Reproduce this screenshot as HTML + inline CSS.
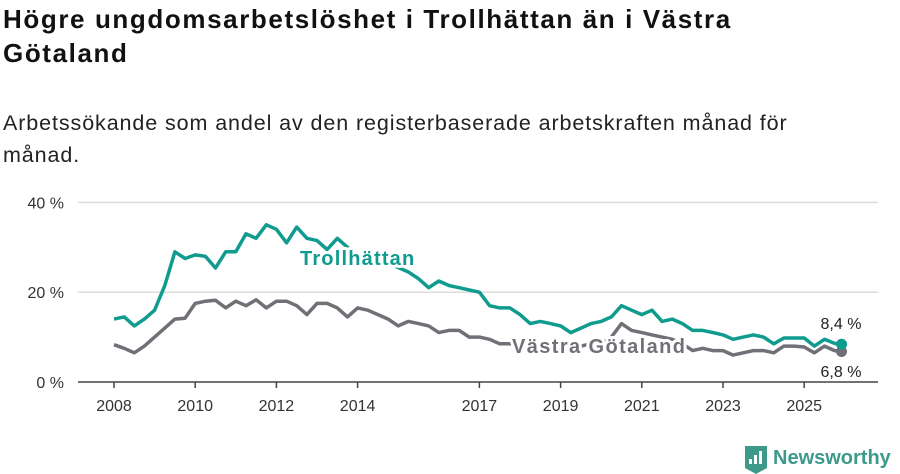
<!DOCTYPE html>
<html><head><meta charset="utf-8"><style>
body{margin:0;width:900px;height:474px;background:#fff;font-family:"Liberation Sans",sans-serif;overflow:hidden;position:relative}
h1{position:absolute;left:3px;top:2px;margin:0;font-size:26px;line-height:34px;font-weight:bold;color:#111;width:890px;letter-spacing:1.6px;white-space:nowrap}
p{position:absolute;left:3px;top:107px;margin:0;font-size:21.5px;line-height:32px;color:#222;width:890px;letter-spacing:0.9px;white-space:nowrap}
svg{position:absolute;left:0;top:0}
</style></head><body>
<h1>Högre ungdomsarbetslöshet i Trollhättan än i Västra<br>Götaland</h1>
<p>Arbetssökande som andel av den registerbaserade arbetskraften månad för<br>månad.</p>
<svg id="chart" width="900" height="474"></svg>
<script>
const startYear = 2008;
const troll = [14,14.5,12.5,14, 16,21.5,29,27.5, 28.3,28,25.4,29, 29,33,32,35, 34,31,34.5,32, 31.5,29.5,32,30, 28,27,26,26.5, 25.5,24.5,23,21, 22.5,21.5,21,20.5, 20,17,16.5,16.5, 15,13,13.5,13, 12.5,11,12,13, 13.5,14.5,17,16, 15,16,13.5,14, 13,11.5,11.5,11, 10.5,9.5,10,10.5, 10,8.5,9.8,9.8, 9.8,8,9.5,8.6,8.4];
const vg = [8.3,7.5,6.5,8, 10,12,14,14.2, 17.5,18,18.2,16.5, 18,17,18.3,16.5, 18,18,17,15, 17.5,17.5,16.5,14.5, 16.5,16,15,14, 12.5,13.5,13,12.5, 11,11.5,11.5,10, 10,9.5,8.5,8.5, 8.5,8.5,8.5,8.5, 8.5,8,8,8.5, 8.5,10,13,11.5, 11,10.5,10,9.5, 8.5,7,7.5,7, 7,6,6.5,7, 7,6.5,8,8, 7.8,6.5,8,7,6.8];
const yTicks = [0,20,40];
const xTickYears = [2008,2010,2012,2014,2017,2019,2021,2023,2025];
const ns='http://www.w3.org/2000/svg';
const svg=document.getElementById('chart');
const X=t=>114+(t-2008)*40.6;
const Y=v=>382-v*4.49;
const tOf=i=>i<72? startYear+i*0.25 : 2025.92;
function mk(tag,attrs,parent){const e=document.createElementNS(ns,tag);for(const k in attrs)e.setAttribute(k,attrs[k]);(parent||svg).appendChild(e);return e;}
yTicks.forEach(v=>{
  if(v>0){const g=mk('line',{x1:78,x2:878,y1:Y(v),y2:Y(v),stroke:'#ddd','stroke-width':1.5});
  
  }
  const t=mk('text',{x:64,y:Y(v)+6,'text-anchor':'end','font-size':16,fill:'#333'});t.textContent=v+' %';
  
  
});
const ax=mk('line',{x1:78,x2:878,y1:382,y2:382,stroke:'#444','stroke-width':1.5});


xTickYears.forEach(yr=>{
  mk('line',{x1:X(yr),x2:X(yr),y1:382,y2:388,stroke:'#444','stroke-width':1.5});
  const t=mk('text',{x:X(yr),y:411,'text-anchor':'middle','font-size':16,fill:'#333'});t.textContent=yr;
  
  
});
function line(data,color,name){
  const d=data.map((v,i)=>(i?'L':'M')+X(tOf(i)).toFixed(1)+','+Y(v).toFixed(1)).join('');
  const p=mk('path',{d:d,fill:'none',stroke:color,'stroke-width':3.5,'stroke-linejoin':'round'});
  
  
  const last=data.length-1;
  const c=mk('circle',{cx:X(tOf(last)),cy:Y(data[last]),r:5.5,fill:color});
  
  
}
line(vg,'#727077','series-vastra-gotaland');
line(troll,'#0f9c8f','series-trollhattan');
function label(txt,x,y,color,name,anchor,bold,size,ls){
  const t=mk('text',{x:x,y:y,'text-anchor':anchor,'font-size':size,'font-weight':bold?'bold':'normal',fill:color,stroke:'#fff','stroke-width':bold?6:4,'paint-order':'stroke','stroke-linejoin':'round','letter-spacing':ls});
  t.textContent=txt;
  
  
}
label('Trollhättan',300,265,'#0f9c8f','trollhattan-label','start',true,20,1.2);
label('Västra Götaland',512,353,'#727077','vastra-gotaland-label','start',true,20,1.4);
label('8,4 %',841,329,'#222','trollhattan-end-value','middle',false,16,0);
label('6,8 %',841,377,'#222','vastra-gotaland-end-value','middle',false,16,0);
const logo=mk('g',{});


mk('path',{d:'M745,446 h22 v22 l-11,6 l-11,-6 z',fill:'#3d9a8b'},logo);
mk('rect',{x:749,y:459,width:3,height:5,fill:'#fff'},logo);
mk('rect',{x:754,y:455,width:3,height:9,fill:'#fff'},logo);
mk('rect',{x:759,y:451,width:3,height:13,fill:'#fff'},logo);
const lt=mk('text',{x:773,y:464,'font-size':20,'font-weight':'bold',fill:'#3d9a8b'},logo);lt.textContent='Newsworthy';
</script>
</body></html>
